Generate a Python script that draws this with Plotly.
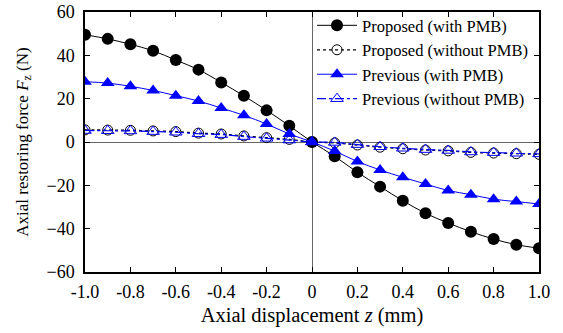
import plotly.graph_objects as go

z = [-1.0, -0.9, -0.8, -0.7, -0.6, -0.5, -0.4, -0.3, -0.2, -0.1, 0.0,
     0.1, 0.2, 0.3, 0.4, 0.5, 0.6, 0.7, 0.8, 0.9, 1.0]

proposed_with = [49.5, 47.6, 45.1, 42.1, 37.8, 33.4, 27.5, 21.3, 14.6, 7.5, 0.0,
                 -6.6, -14.0, -20.6, -27.1, -32.9, -37.4, -41.4, -44.8, -47.4, -49.0]
proposed_without = [5.6, 5.5, 5.4, 5.1, 4.8, 4.1, 3.7, 2.8, 2.0, 1.2, 0.0,
                    -0.4, -1.4, -2.4, -3.1, -3.7, -4.1, -4.8, -5.1, -5.4, -5.7]
previous_with = [27.8, 27.2, 25.7, 23.8, 21.4, 18.9, 15.7, 12.3, 8.3, 3.7, 0.0,
                 -4.2, -9.0, -12.9, -16.3, -19.4, -22.4, -24.3, -26.4, -27.5, -28.6]
previous_without = [5.3, 5.2, 5.1, 4.8, 4.5, 3.8, 3.4, 2.5, 1.7, 0.9, 0.0,
                    -0.2, -1.2, -2.2, -2.9, -3.5, -3.9, -4.6, -4.9, -5.2, -5.5]

names = ["Proposed (with PMB)", "Proposed (without PMB)",
         "Previous (with PMB)", "Previous (without PMB)"]

x_ticks = [-1.0, -0.8, -0.6, -0.4, -0.2, 0.0, 0.2, 0.4, 0.6, 0.8, 1.0]
x_tick_labels = ["-1.0", "-0.8", "-0.6", "-0.4", "-0.2", "0", "0.2", "0.4", "0.6", "0.8", "1.0"]
y_ticks = [-60, -40, -20, 0, 20, 40, 60]

FONT = "'Times New Roman', 'Liberation Serif', serif"
BLUE = "#0000ff"

fig = go.Figure()
fig.add_trace(go.Scatter(
    x=z, y=proposed_with, name=names[0], mode="lines+markers",
    line=dict(color="black", width=1, shape="spline"),
    marker=dict(symbol="circle", size=12, color="black")))
fig.add_trace(go.Scatter(
    x=z, y=proposed_without, name=names[1], mode="lines+markers",
    line=dict(color="black", width=1.3, dash="dot", shape="spline"),
    marker=dict(symbol="circle-open", size=10, color="black", line=dict(width=1))))
fig.add_trace(go.Scatter(
    x=z, y=previous_with, name=names[2], mode="lines+markers",
    line=dict(color=BLUE, width=1, shape="spline"),
    marker=dict(symbol="triangle-up", size=12, color=BLUE)))
fig.add_trace(go.Scatter(
    x=z, y=previous_without, name=names[3], mode="lines+markers",
    line=dict(color=BLUE, width=1.2, dash="dashdot", shape="spline"),
    marker=dict(symbol="triangle-up-open", size=11, color=BLUE, line=dict(width=1))))

fig.update_layout(
    width=563, height=333,
    margin=dict(l=85, r=24, t=12, b=61, autoexpand=False),
    paper_bgcolor="white", plot_bgcolor="white",
    font=dict(family=FONT, size=17, color="black"),
    showlegend=True,
    legend=dict(x=0.5, y=1.015, xanchor="left", yanchor="top",
                bgcolor="rgba(0,0,0,0)", font=dict(size=16.5, family=FONT),
                tracegroupgap=0, itemwidth=40),
)
fig.update_xaxes(
    range=[-1.0, 1.0], tickvals=x_ticks, ticktext=x_tick_labels,
    showgrid=False, showline=True, linecolor="black", linewidth=1.5, mirror="ticks",
    ticks="inside", ticklen=5, tickcolor="black", automargin=False,
    ticklabelstandoff=3,
    zeroline=True, zerolinecolor="#666666", zerolinewidth=1,
    title=dict(text="Axial displacement <i>z</i> (mm)", font=dict(size=20.5, family=FONT), standoff=6),
    tickfont=dict(size=18, family=FONT),
)
fig.update_yaxes(
    range=[-60, 60], tickvals=y_ticks,
    showgrid=False, showline=True, linecolor="black", linewidth=1.5, mirror="ticks",
    ticks="inside", ticklen=5, tickcolor="black", automargin=False,
    ticklabelstandoff=5,
    zeroline=True, zerolinecolor="#666666", zerolinewidth=1,
    title=dict(text="Axial restoring force <i>F</i><sub>z</sub> (N)", font=dict(size=17, family=FONT), standoff=14),
    tickfont=dict(size=18, family=FONT),
)

fig.write_html("out.html")
